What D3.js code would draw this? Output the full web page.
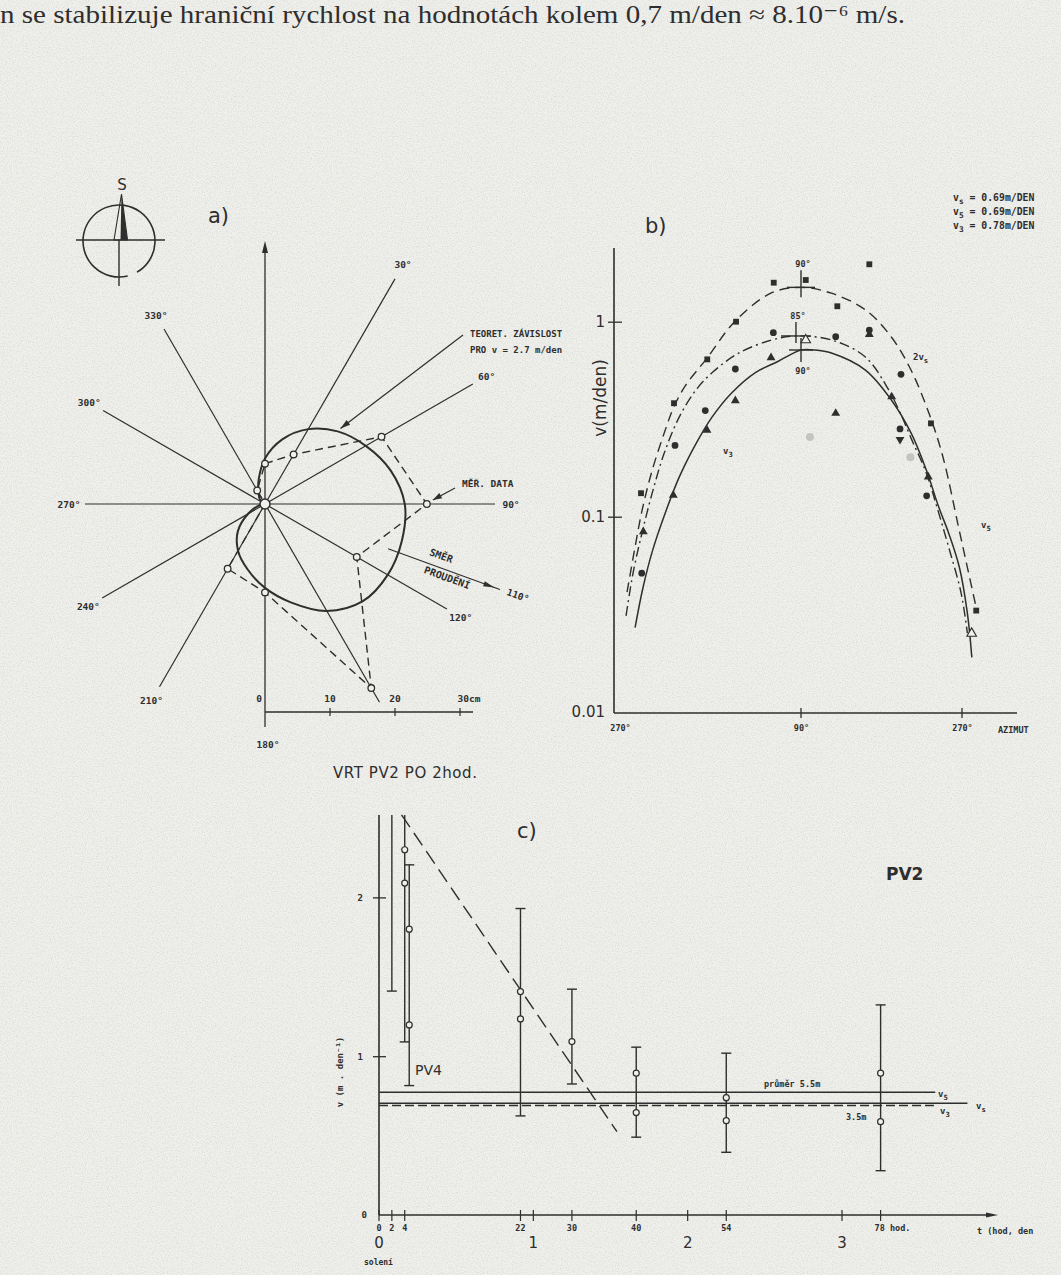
<!DOCTYPE html>
<html lang="cs">
<head>
<meta charset="utf-8">
<title>Rychlost proudění – vrt PV2</title>
<script src="https://cdn.jsdelivr.net/npm/d3@7"></script>
<style>
  html, body { margin: 0; padding: 0; background: #f0f0ec; }
  svg { display: block; }
</style>
</head>
<body>
<svg id="fig" width="1061" height="1275"></svg>
<script>
// ===================== data =====================

// a) polar diagram: azimuth rays, theoretical dependence and measured data (cm)
const rayAzimuth = [30, 60, 90, 120, 150, 210, 240, 270, 300, 330];
const rayLabel   = ["30°", "60°", "90°", "120°", "", "210°", "240°", "270°", "300°", "330°"];
const theoryAzimuth  = [0, 15, 30, 45, 60, 75, 90, 105, 120, 135, 150, 165, 180, 195, 210, 225, 240, 255, 270, 285, 300, 315, 330, 345];
const theoryRadiusCm = [7.0, 10.3, 13.3, 15.8, 17.9, 20.0, 21.5, 21.8, 21.8, 21.2, 19.0, 15.7, 12.9, 10.4, 8.3, 5.9, 3.0, 1.0, 0.0, 0.3, 0.6, 1.2, 2.0, 3.8];
const measAzimuth  = [0, 30, 60, 90, 120, 150, 180, 210, 240, 270, 300, 330];
const measRadiusCm = [6.2, 8.8, 20.7, 24.9, 16.3, 32.7, 13.6, 11.5, 0, 0, 0, 2.4];
const scaleTickCm    = [10, 20, 30];
const scaleTickLabel = ["10", "20", "30cm"];
const flowAzimuth = 110;

// b) velocity vs. azimuth (log scale)
const legendSub   = ["s", "5", "3"];
const legendValue = [0.69, 0.69, 0.78];
const dashAz  = [-83, -75, -68, -58, -44, -37, -25, -4, 24, 60, 90, 124, 162, 191, 213, 234, 249, 266, 276, 286];
const dashV   = [0.041, 0.07, 0.108, 0.173, 0.288, 0.36, 0.47, 0.645, 1.0, 1.40, 1.50, 1.40, 1.15, 0.835, 0.565, 0.33, 0.2, 0.089, 0.055, 0.034];
const dotDashAz = [-84, -77, -68, -58, -46, -31, -14, 2, 28, 61, 85, 124, 162, 188, 201, 214, 230, 242, 255, 269, 276];
const dotDashV  = [0.031, 0.0515, 0.083, 0.132, 0.212, 0.325, 0.45, 0.55, 0.69, 0.806, 0.845, 0.806, 0.659, 0.447, 0.34, 0.247, 0.168, 0.112, 0.07, 0.0406, 0.0253];
const solidAz = [-75, -67, -57.5, -44, -31, -14, 1.5, 21, 45, 67, 80, 90, 105, 124, 162, 191, 213, 230, 244, 255, 267, 276, 281];
const solidV  = [0.027, 0.0436, 0.0674, 0.108, 0.16, 0.239, 0.324, 0.431, 0.55, 0.625, 0.68, 0.716, 0.716, 0.691, 0.565, 0.397, 0.269, 0.174, 0.112, 0.0826, 0.0552, 0.032, 0.019];
const peakAz    = [90, 85, 90];
const peakV     = [1.50, 0.845, 0.716];
const peakLabel = ["90°", "85°", "90°"];
const squareAz = [62.9, 95.3, 166.4, 130.6, 25.4, -3.2, -36.3, -69.1, 235.3, 285.9];
const squareV  = [1.585, 1.636, 1.97, 1.20, 1.0, 0.641, 0.382, 0.132, 0.301, 0.033];
const circleAz = [62.5, 128.8, 24.7, -5.2, -35.3, -68.4, 201.8, 200.7, 230.5, 166.4];
const circleV  = [0.878, 0.838, 0.572, 0.35, 0.232, 0.0513, 0.537, 0.282, 0.128, 0.906];
const triAz    = [60.2, 24.7, -3.5, -37, -66.8, 128.8, 191.4, 232.3, 166.4];
const triV     = [0.654, 0.394, 0.278, 0.129, 0.0838, 0.339, 0.412, 0.160, 0.86];
const openTriAz = [95.3, 280.8];
const openTriV  = [0.806, 0.0252];
const downTriAz = [200.7];
const downTriV  = [0.249];
const faintAz = [100, 212.3];
const faintV  = [0.256, 0.202];
const bYTicks = [1, 0.1, 0.01];
const bYTickLabel = ["1", "0.1", "0.01"];
const bXTicks = [-90, 90, 270];
const bXTickLabel = ["270°", "90°", "270°"];

// c) velocity vs. time after salting
const barHour = [2, 4, 4.7, 22, 30, 40, 54, 78];
const barLow  = [1.41, 1.09, 0.815, 0.624, 0.825, 0.49, 0.395, 0.279];
const barHigh = [null, null, 2.205, 1.93, 1.422, 1.057, 1.019, 1.323];   // null: runs past the top of the axis
const pointHour = [4, 4, 4.7, 4.7, 22, 22, 30, 40, 40, 54, 54, 78, 78];
const pointV    = [2.30, 2.09, 1.80, 1.197, 1.407, 1.235, 1.092, 0.893, 0.645, 0.739, 0.594, 0.893, 0.588];
const trendHour = [3.5, 37];
const trendV    = [2.52, 0.525];
const v5Level = 0.773, vsLevel = 0.704, v3Level = 0.69;
const hourTicks = [0, 2, 4, 22, 24, 30, 40, 48, 54, 72, 78];
const hourLabelAt = [0, 2, 4, 22, 30, 40, 54, 78];
const hourLabel   = ["0", "2", "4", "22", "30", "40", "54", "78 hod."];
const dayLabelAt = [0, 24, 48, 72];
const dayLabel   = ["0", "1", "2", "3"];
const cYTicks = [1, 2];

// ===================== drawing =====================
const svg = d3.select("#fig");
const INK = "#2e2e2e";
const PAPER = "#f0f0ec";
const MONO = "'DejaVu Sans Mono', monospace";
const SANS = "'DejaVu Sans', 'Liberation Sans', sans-serif";
const SERIF = "'Liberation Serif', 'DejaVu Serif', serif";

// paper background with a light grain
const defs = svg.append("defs");
const grain = defs.append("filter").attr("id", "grain")
  .attr("x", 0).attr("y", 0).attr("width", "100%").attr("height", "100%");
grain.append("feTurbulence").attr("type", "fractalNoise")
  .attr("baseFrequency", 0.8).attr("numOctaves", 2).attr("seed", 7);
grain.append("feColorMatrix").attr("type", "matrix")
  .attr("values", "0 0 0 0 0.35  0 0 0 0 0.35  0 0 0 0 0.33  1.6 0 0 0 -0.65");
svg.append("rect").attr("width", 1061).attr("height", 1275).attr("fill", PAPER);
svg.append("rect").attr("width", 1061).attr("height", 1275).attr("filter", "url(#grain)").attr("opacity", 0.35);

function txt(g, x, y, s, size, opts = {}) {
  return g.append("text").attr("x", x).attr("y", y).text(s)
    .attr("font-family", opts.family || MONO)
    .attr("font-size", size)
    .attr("font-weight", opts.weight || "bold")
    .attr("fill", INK)
    .attr("text-anchor", opts.anchor || "start");
}
function subText(g, x, y, main, sub, rest, size, anchor) {
  const t = g.append("text").attr("x", x).attr("y", y)
    .attr("font-family", MONO).attr("font-size", size).attr("font-weight", "bold")
    .attr("fill", INK).attr("text-anchor", anchor || "start");
  t.append("tspan").text(main);
  t.append("tspan").attr("dy", size * 0.3).attr("font-size", size * 0.8).text(sub);
  if (rest) t.append("tspan").attr("dy", -size * 0.3).text(rest);
  return t;
}
function arrowHead(g, tip, angleDeg, len, half) {
  const a = angleDeg * Math.PI / 180;
  const ux = Math.cos(a), uy = Math.sin(a);
  const bx = tip[0] - ux * len, by = tip[1] - uy * len;
  g.append("path")
    .attr("d", `M${tip[0]},${tip[1]}L${bx - uy * half},${by + ux * half}L${bx + uy * half},${by - ux * half}Z`)
    .attr("fill", INK);
}

// running text line above the figure
txt(svg, 0, 23, "n se stabilizuje hraniční rychlost na hodnotách kolem 0,7 m/den ≈ 8.10⁻⁶ m/s.", 25,
  { family: SERIF, weight: "normal" }).attr("textLength", 905).attr("lengthAdjust", "spacingAndGlyphs");

// ---------- a) ----------
const gA = svg.append("g");
const O = [265, 504];
const rA = d3.scaleLinear().domain([0, 30]).range([0, 195]);
const toXY = (az, px) => [O[0] + px * Math.sin(az * Math.PI / 180), O[1] - px * Math.cos(az * Math.PI / 180)];
const rayLengthPx = [260, 240, 230, 210, 229, 211, 188, 180, 187, 202];

// compass rose
const comp = { x: 119, y: 241, r: 36 };
const cp = d3.path();
cp.arc(comp.x, comp.y, comp.r, 76 * Math.PI / 180, (60 + 360) * Math.PI / 180);
gA.append("path").attr("d", cp.toString()).attr("fill", "none").attr("stroke", INK).attr("stroke-width", 1.6);
gA.append("line").attr("x1", 76).attr("x2", 165).attr("y1", 240).attr("y2", 240).attr("stroke", INK).attr("stroke-width", 1.4);
gA.append("line").attr("x1", 119).attr("x2", 119).attr("y1", 240).attr("y2", 286).attr("stroke", INK).attr("stroke-width", 1.4);
gA.append("path").attr("d", "M121.5,194L114,240L127.5,240Z").attr("fill", "none").attr("stroke", INK).attr("stroke-width", 1.1);
gA.append("path").attr("d", "M121.5,194L120.5,240L127.5,240Z").attr("fill", INK);
txt(gA, 122, 190, "S", 15, { family: SANS, weight: "normal", anchor: "middle" });
txt(gA, 208, 223, "a)", 21, { family: SANS, weight: "normal" });

// rays
rayAzimuth.forEach((az, i) => {
  const end = toXY(az, rayLengthPx[i]);
  gA.append("line").attr("x1", O[0]).attr("y1", O[1]).attr("x2", end[0]).attr("y2", end[1])
    .attr("stroke", INK).attr("stroke-width", 1.2);
  if (rayLabel[i]) {
    const lp = toXY(az, rayLengthPx[i] + 16);
    txt(gA, lp[0], lp[1] + 3.5, rayLabel[i], 9.5, { anchor: "middle" });
  }
});
// vertical axis with arrow, 180° at the bottom
gA.append("line").attr("x1", O[0]).attr("x2", O[0]).attr("y1", 727).attr("y2", 250).attr("stroke", INK).attr("stroke-width", 1.3);
arrowHead(gA, [O[0], 241], -90, 12, 3);
txt(gA, O[0] + 3, 748, "180°", 9.5, { anchor: "middle" });

// scale bar in cm
const barY = 712;
gA.append("line").attr("x1", O[0]).attr("x2", O[0] + rA(32)).attr("y1", barY).attr("y2", barY).attr("stroke", INK).attr("stroke-width", 1.3);
scaleTickCm.forEach((v, i) => {
  const x = O[0] + rA(v);
  gA.append("line").attr("x1", x).attr("x2", x).attr("y1", barY - 4).attr("y2", barY + 4).attr("stroke", INK).attr("stroke-width", 1.2);
  txt(gA, i === 2 ? x + 9 : x, barY - 10, scaleTickLabel[i], 9.5, { anchor: "middle" });
});
txt(gA, O[0] - 3, barY - 10, "0", 9.5, { anchor: "end" });

// theoretical dependence (closed curve)
const radial = d3.lineRadial()
  .angle(d => d.az * Math.PI / 180)
  .radius(d => rA(d.r));
const theoryPts = theoryAzimuth.map((az, i) => ({ az, r: theoryRadiusCm[i] }));
gA.append("path").attr("transform", `translate(${O})`)
  .attr("d", radial.curve(d3.curveCatmullRomClosed.alpha(0.5))(theoryPts))
  .attr("fill", "none").attr("stroke", INK).attr("stroke-width", 2);

// measured data (dashed polygon with open circles)
const measPts = measAzimuth.map((az, i) => ({ az, r: measRadiusCm[i] }));
gA.append("path").attr("transform", `translate(${O})`)
  .attr("d", radial.curve(d3.curveLinearClosed)(measPts))
  .attr("fill", "none").attr("stroke", INK).attr("stroke-width", 1.4).attr("stroke-dasharray", "8,5");
gA.selectAll("circle.meas").data(measPts).join("circle").attr("class", "meas")
  .attr("cx", d => toXY(d.az, rA(d.r))[0]).attr("cy", d => toXY(d.az, rA(d.r))[1])
  .attr("r", 3.3).attr("fill", PAPER).attr("stroke", INK).attr("stroke-width", 1.3);
gA.append("circle").attr("cx", O[0]).attr("cy", O[1]).attr("r", 5).attr("fill", PAPER).attr("stroke", INK).attr("stroke-width", 1.5);

// annotation: theoretical curve
const teoTip = toXY(45, rA(theoryRadiusCm[theoryAzimuth.indexOf(45)]) + 4);
gA.append("line").attr("x1", 463).attr("y1", 335).attr("x2", teoTip[0]).attr("y2", teoTip[1]).attr("stroke", INK).attr("stroke-width", 1.2);
arrowHead(gA, teoTip, Math.atan2(teoTip[1] - 335, teoTip[0] - 463) * 180 / Math.PI, 10, 3);
txt(gA, 470, 337, "TEORET. ZÁVISLOST", 9);
txt(gA, 470, 353, "PRO  v = 2.7 m/den", 9);

// annotation: measured data
const p90 = toXY(90, rA(measRadiusCm[measAzimuth.indexOf(90)]));
const mTip = [p90[0] + 6, p90[1] - 4];
gA.append("line").attr("x1", 455).attr("y1", 488).attr("x2", mTip[0]).attr("y2", mTip[1]).attr("stroke", INK).attr("stroke-width", 1.2);
arrowHead(gA, mTip, Math.atan2(mTip[1] - 488, mTip[0] - 455) * 180 / Math.PI, 9, 3);
txt(gA, 462, 487, "MĚŘ. DATA", 9.5);

// flow direction arrow
const f0 = toXY(flowAzimuth, 131), f1 = toXY(flowAzimuth, 250);
gA.append("line").attr("x1", f0[0]).attr("y1", f0[1]).attr("x2", f1[0]).attr("y2", f1[1]).attr("stroke", INK).attr("stroke-width", 1.2);
arrowHead(gA, toXY(flowAzimuth, 244), flowAzimuth - 90, 11, 2.6);
const fl = toXY(flowAzimuth, 268);
txt(gA, 0, 0, flowAzimuth + "°", 9.5, { anchor: "middle" }).attr("transform", `translate(${fl[0]},${fl[1] + 3}) rotate(${flowAzimuth - 90})`);
txt(gA, 0, 0, "SMĚR", 10, { anchor: "middle" }).attr("transform", `translate(440,559) rotate(20)`);
txt(gA, 0, 0, "PROUDĚNÍ", 10, { anchor: "middle" }).attr("transform", `translate(446,581) rotate(20)`);

txt(gA, 333, 778, "VRT  PV2  PO  2hod.", 15, { family: SANS, weight: "normal" }).attr("textLength", 144).attr("lengthAdjust", "spacing");

// ---------- b) ----------
const gB = svg.append("g");
const bx = d3.scaleLinear().domain([-90, 90, 270]).range([620, 801, 962]);
const by = d3.scaleLog().domain([0.01, 1]).range([711.7, 321.7]);
const bAxisX = 614, bAxisY = 713;

txt(gB, 645, 233, "b)", 21, { family: SANS, weight: "normal" });
legendSub.forEach((s, i) => {
  subText(gB, 953, 201 + i * 14, "v", s, ` = ${legendValue[i].toFixed(2)}m/DEN`, 9.8);
});

// axes
gB.append("line").attr("x1", bAxisX).attr("x2", bAxisX).attr("y1", 248).attr("y2", bAxisY).attr("stroke", INK).attr("stroke-width", 1.6);
gB.append("line").attr("x1", bAxisX).attr("x2", 1017).attr("y1", bAxisY).attr("y2", bAxisY).attr("stroke", INK).attr("stroke-width", 1.6);
const yAxisB = d3.axisLeft(by).tickValues(bYTicks).tickFormat((d, i) => bYTickLabel[i]).tickSize(6).tickPadding(6);
const yAxG = gB.append("g").attr("transform", `translate(${bAxisX},0)`).call(yAxisB);
yAxG.select(".domain").remove();
yAxG.selectAll(".tick line").attr("x1", -6).attr("x2", 8).attr("stroke", INK).attr("stroke-width", 1.3)
  .filter(d => d === 0.01).remove();
yAxG.selectAll(".tick text").attr("font-family", SANS).attr("font-size", 15).attr("fill", INK).attr("dy", "0.35em").attr("x", -9);
const xAxisB = d3.axisBottom(bx).tickValues(bXTicks).tickFormat((d, i) => bXTickLabel[i]).tickSize(0).tickPadding(12);
const xAxG = gB.append("g").attr("transform", `translate(0,${bAxisY})`).call(xAxisB);
xAxG.select(".domain").remove();
xAxG.selectAll(".tick text").attr("font-family", MONO).attr("font-weight", "bold").attr("font-size", 8.5).attr("fill", INK);
[90, 270].forEach(a => gB.append("line").attr("x1", bx(a)).attr("x2", bx(a)).attr("y1", bAxisY - 5).attr("y2", bAxisY + 5).attr("stroke", INK).attr("stroke-width", 1.3));
txt(gB, 998, 733, "AZIMUT", 8.5);
txt(gB, 0, 0, "v(m/den)", 17, { family: SANS, weight: "normal", anchor: "middle" }).attr("transform", "translate(606,398) rotate(-90)");

// curves
const lineB = d3.line().x(d => bx(d.az)).y(d => by(d.v)).curve(d3.curveCatmullRom.alpha(0.5));
const mk = (az, v) => az.map((a, i) => ({ az: a, v: v[i] }));
gB.append("path").attr("d", lineB(mk(dashAz, dashV))).attr("fill", "none").attr("stroke", INK).attr("stroke-width", 1.4).attr("stroke-dasharray", "10,6");
gB.append("path").attr("d", lineB(mk(dotDashAz, dotDashV))).attr("fill", "none").attr("stroke", INK).attr("stroke-width", 1.4).attr("stroke-dasharray", "10,4,2,4");
gB.append("path").attr("d", lineB(mk(solidAz, solidV))).attr("fill", "none").attr("stroke", INK).attr("stroke-width", 1.5);

// peak crosshairs
const crossUp = [17, 14, 12], crossDown = [10, 7, 12], crossHalf = [14, 15, 12];
peakAz.forEach((a, i) => {
  const x = bx(a), y = by(peakV[i]);
  gB.append("line").attr("x1", x).attr("x2", x).attr("y1", y - crossUp[i]).attr("y2", y + crossDown[i]).attr("stroke", INK).attr("stroke-width", 1.4);
  gB.append("line").attr("x1", x - crossHalf[i]).attr("x2", x + crossHalf[i]).attr("y1", y).attr("y2", y).attr("stroke", INK).attr("stroke-width", 1.4);
  const ly = i === 2 ? y + crossDown[i] + 12 : y - crossUp[i] - 3;
  txt(gB, x + 2, ly, peakLabel[i], 8.5, { anchor: "middle" });
});

// curve labels
subText(gB, 913, 360, "2v", "s", "", 9);
subText(gB, 723, 454, "v", "3", "", 9);
subText(gB, 981, 528, "v", "5", "", 9);

// measured points
const sym = (type, size) => d3.symbol().type(type).size(size)();
const putSym = (az, v, type, size, filled, rot) => {
  gB.selectAll(null).data(mk(az, v)).join("path")
    .attr("transform", d => `translate(${bx(d.az)},${by(d.v)}) rotate(${rot || 0})`)
    .attr("d", sym(type, size))
    .attr("fill", filled ? INK : PAPER).attr("stroke", INK).attr("stroke-width", filled ? 0 : 1.1);
};
putSym(squareAz, squareV, d3.symbolSquare, 34, true);
putSym(circleAz, circleV, d3.symbolCircle, 36, true);
putSym(triAz, triV, d3.symbolTriangle, 34, true);
putSym(openTriAz, openTriV, d3.symbolTriangle, 40, false);
putSym(downTriAz, downTriV, d3.symbolTriangle, 34, true, 180);
gB.selectAll(null).data(mk(faintAz, faintV)).join("circle")
  .attr("cx", d => bx(d.az)).attr("cy", d => by(d.v)).attr("r", 4).attr("fill", "#c4c4c0");

// ---------- c) ----------
const gC = svg.append("g");
const cx = d3.scaleLinear().domain([0, 78]).range([379, 880.6]);
const cy = d3.scaleLinear().domain([0, 2]).range([1215, 897.4]);
const cTop = 815;

txt(gC, 517, 838, "c)", 21, { family: SANS, weight: "normal" });
txt(gC, 886, 880, "PV2", 17, { family: SANS, weight: "bold" });

// axes
gC.append("line").attr("x1", cx(0)).attr("x2", cx(0)).attr("y1", cTop).attr("y2", cy(0)).attr("stroke", INK).attr("stroke-width", 1.6);
gC.append("line").attr("x1", cx(0)).attr("x2", 988).attr("y1", cy(0)).attr("y2", cy(0)).attr("stroke", INK).attr("stroke-width", 1.6);
arrowHead(gC, [998, cy(0)], 0, 12, 2.5);
const yAxisC = d3.axisLeft(cy).tickValues(cYTicks).tickFormat(d3.format("d")).tickSize(6).tickPadding(10);
const cyG = gC.append("g").attr("transform", `translate(${cx(0)},0)`).call(yAxisC);
cyG.select(".domain").remove();
cyG.selectAll(".tick line").attr("x1", -6).attr("x2", 7).attr("stroke", INK).attr("stroke-width", 1.3);
cyG.selectAll(".tick text").attr("font-family", MONO).attr("font-weight", "bold").attr("font-size", 9).attr("fill", INK);
txt(gC, cx(0) - 12, cy(0) + 3, "0", 9, { anchor: "end" });
hourTicks.forEach(h => gC.append("line").attr("x1", cx(h)).attr("x2", cx(h)).attr("y1", cy(0) - 5).attr("y2", cy(0) + 6).attr("stroke", INK).attr("stroke-width", 1.2));
hourLabelAt.forEach((h, i) => txt(gC, i === 7 ? cx(h) - 6 : cx(h), 1231, hourLabel[i], 8.5, { anchor: i === 7 ? "start" : "middle" }));
dayLabelAt.forEach((h, i) => txt(gC, cx(h), 1248, dayLabel[i], 15, { family: SANS, weight: "normal", anchor: "middle" }));
txt(gC, 364, 1265, "solení", 8);
txt(gC, 977, 1234, "t (hod, den", 8.5);
txt(gC, 0, 0, "v (m . den⁻¹)", 9, { anchor: "middle" }).attr("transform", "translate(343,1072) rotate(-90)");

// reference levels
const hline = (v, h1, dash, w) => gC.append("line").attr("x1", cx(0)).attr("x2", cx(h1)).attr("y1", cy(v)).attr("y2", cy(v))
  .attr("stroke", INK).attr("stroke-width", w || 1.4).attr("stroke-dasharray", dash || null);
hline(v5Level, 86.5);
hline(vsLevel, 91.5);
hline(v3Level, 86.5, "9,4", 1.6);
txt(gC, 764, 1087, "průměr  5.5m", 8.5);
subText(gC, 938, 1097, "v", "5", "", 9);
subText(gC, 976, 1109, "v", "s", "", 9);
subText(gC, 940, 1114, "v", "3", "", 9);
txt(gC, 846, 1120, "3.5m", 8.5);

// trend line
gC.append("path").attr("d", d3.line().x(d => cx(d.h)).y(d => cy(d.v))(trendHour.map((h, i) => ({ h, v: trendV[i] }))))
  .attr("fill", "none").attr("stroke", INK).attr("stroke-width", 1.4).attr("stroke-dasharray", "15,7");

// error bars
barHour.forEach((h, i) => {
  const x = cx(h);
  const yTop = barHigh[i] === null ? cTop : cy(barHigh[i]);
  gC.append("line").attr("x1", x).attr("x2", x).attr("y1", yTop).attr("y2", cy(barLow[i])).attr("stroke", INK).attr("stroke-width", 1.4);
  gC.append("line").attr("x1", x - 5).attr("x2", x + 5).attr("y1", cy(barLow[i])).attr("y2", cy(barLow[i])).attr("stroke", INK).attr("stroke-width", 1.4);
  if (barHigh[i] !== null)
    gC.append("line").attr("x1", x - 5).attr("x2", x + 5).attr("y1", yTop).attr("y2", yTop).attr("stroke", INK).attr("stroke-width", 1.4);
});
gC.selectAll("circle.pt").data(pointHour.map((h, i) => ({ h, v: pointV[i] }))).join("circle").attr("class", "pt")
  .attr("cx", d => cx(d.h)).attr("cy", d => cy(d.v)).attr("r", 3)
  .attr("fill", PAPER).attr("stroke", INK).attr("stroke-width", 1.2);
txt(gC, 415, 1075, "PV4", 14, { family: SANS, weight: "normal" });
</script>
</body>
</html>
